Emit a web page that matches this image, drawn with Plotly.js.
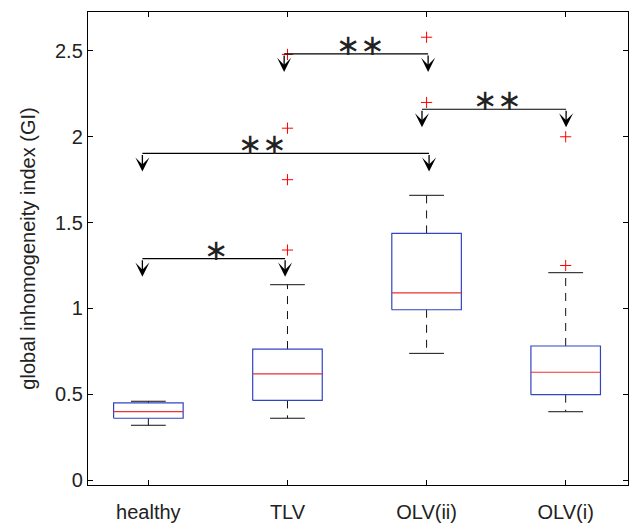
<!DOCTYPE html>
<html>
<head>
<meta charset="utf-8">
<script src="https://cdn.plot.ly/plotly-3.0.1.min.js"></script>
<style>html,body{margin:0;padding:0;background:#fff;}#chart{width:632px;height:527px;}</style>
</head>
<body>
<div id="chart"></div>
<script>
// ---- data ----
const categories = ['healthy', 'TLV', 'OLV(ii)', 'OLV(i)'];
const q1 = [0.360, 0.464, 0.992, 0.497];
const medians = [0.398, 0.618, 1.090, 0.628];
const q3 = [0.449, 0.763, 1.437, 0.781];
const whiskerLow = [0.319, 0.360, 0.738, 0.398];
const whiskerHigh = [0.459, 1.138, 1.659, 1.208];
const outliers = [[], [1.34, 1.75, 2.05, 2.48], [2.20, 2.58], [1.25, 2.00]];

// significance brackets
const bracketStart = [0.957, 0.957, 1.976, 2.967];
const bracketEnd = [1.983, 3.018, 3.011, 4.003];
const bracketLevel = [1.290, 1.903, 2.483, 2.160];
const bracketLabel = ['\u2217', '\u2217\u2217', '\u2217\u2217', '\u2217\u2217'];
const bracketLabelX = [1.483, 1.822, 2.527, 3.509];

const yTicks = [0, 0.5, 1, 1.5, 2, 2.5];
const yTickText = ['0', '0.5', '1', '1.5', '2', '2.5'];

// ---- style constants ----
const BOX_HALF = 0.25, CAP_HALF = 0.125, ARROW_DROP = 0.105;
const FONT = 'Liberation Sans, Arial, Helvetica, sans-serif';

const pos = categories.map((c, i) => i + 1);
const boxX = [], boxY = [], medX = [], medY = [], whX = [], whY = [], capX = [], capY = [];
pos.forEach((p, i) => {
  boxX.push(p - BOX_HALF, p + BOX_HALF, p + BOX_HALF, p - BOX_HALF, p - BOX_HALF, null);
  boxY.push(q1[i], q1[i], q3[i], q3[i], q1[i], null);
  medX.push(p - BOX_HALF, p + BOX_HALF, null);
  medY.push(medians[i], medians[i], null);
  whX.push(p, p, null, p, p, null);
  whY.push(q3[i], whiskerHigh[i], null, q1[i], whiskerLow[i], null);
  capX.push(p - CAP_HALF, p + CAP_HALF, null, p - CAP_HALF, p + CAP_HALF, null);
  capY.push(whiskerHigh[i], whiskerHigh[i], null, whiskerLow[i], whiskerLow[i], null);
});
const outX = [], outY = [];
outliers.forEach((arr, i) => arr.forEach(v => { outX.push(pos[i]); outY.push(v); }));

const brX = [], brY = [];
bracketLevel.forEach((lv, i) => { brX.push(bracketStart[i], bracketEnd[i], null); brY.push(lv, lv, null); });

const traces = [
  {x: whX, y: whY, mode: 'lines', line: {color: '#111', width: 1, dash: '8px,7px'}, hoverinfo: 'skip'},
  {x: capX, y: capY, mode: 'lines', line: {color: '#111', width: 1}, hoverinfo: 'skip'},
  {x: boxX, y: boxY, mode: 'lines', line: {color: '#3344c0', width: 1.2}, hoverinfo: 'skip'},
  {x: medX, y: medY, mode: 'lines', line: {color: '#ee3030', width: 1.2}, hoverinfo: 'skip'},
  {x: outX, y: outY, mode: 'markers', marker: {symbol: 'cross-thin-open', size: 8, color: 'red', line: {color: 'red', width: 1}}, hoverinfo: 'skip'},
  {x: brX, y: brY, mode: 'lines', line: {color: '#000', width: 1.1}, hoverinfo: 'skip'}
];

const annotations = [];
bracketLevel.forEach((lv, i) => {
  [bracketStart[i], bracketEnd[i]].forEach(xx => {
    annotations.push({x: xx, y: lv - ARROW_DROP, ax: xx, ay: lv, xref: 'x', yref: 'y', axref: 'x', ayref: 'y',
      text: '', showarrow: true, arrowhead: 3, arrowsize: 1.8, arrowwidth: 1.3, arrowcolor: '#000', standoff: 0, startstandoff: 0});
  });
  annotations.push({x: bracketLabelX[i], y: lv, xref: 'x', yref: 'y', text: bracketLabel[i], showarrow: false,
    yanchor: 'middle', xanchor: 'center', yshift: 9, font: {family: 'DejaVu Sans', size: 29, color: '#222'}});
});

const layout = {
  width: 632, height: 527,
  margin: {l: 88, r: 4, t: 12, b: 42},
  paper_bgcolor: '#fff', plot_bgcolor: '#fff',
  showlegend: false,
  xaxis: {range: [0.566, 4.448], tickvals: pos, ticktext: categories, ticks: 'inside', ticklen: 5, tickcolor: '#000',
    showline: true, mirror: 'ticks', linecolor: '#000', linewidth: 1.2, showgrid: false, zeroline: false,
    ticklabelstandoff: 9,
    tickfont: {family: FONT, size: 20, color: '#222'}},
  yaxis: {range: [-0.029, 2.727], tickvals: yTicks, ticktext: yTickText, ticks: 'inside', ticklen: 5, tickcolor: '#000',
    showline: true, mirror: 'ticks', linecolor: '#000', linewidth: 1.2, showgrid: false, zeroline: false,
    tickfont: {family: FONT, size: 20, color: '#222'},
    title: {text: 'global inhomogeneity index (GI)', font: {family: FONT, size: 20, color: '#222'}, standoff: 14}},
  annotations: annotations
};

Plotly.newPlot('chart', traces, layout, {staticPlot: true, displayModeBar: false});
</script>
</body>
</html>
